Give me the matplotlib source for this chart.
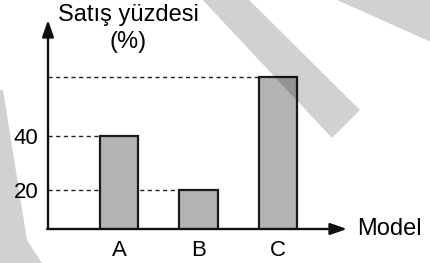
import matplotlib.pyplot as plt
from matplotlib.patches import Polygon

plt.rcParams['font.family'] = ['Liberation Sans', 'DejaVu Sans']

models = ['A', 'B', 'C']
shares = [40, 20, 62]
tick_vals = [20, 40]

W, H = 431, 263
fig = plt.figure(figsize=(W / 100, H / 100), dpi=100)

# axes box in pixels: y-axis at x=48, baseline at y=229, arrows end at 347 / 20
left, right, base, top = 48, 347, 229, 20
ax = fig.add_axes([left / W, (H - base) / H, (right - left) / W, (base - top) / H])
ax.set_xlim(-0.893, 2.868)
ax.set_ylim(5.56, 82.96)
for s in ax.spines.values():
    s.set_visible(False)
ax.patch.set_alpha(0)

bw = 0.48
ax.bar(range(len(models)), shares, width=bw, color='#b3b3b3', edgecolor='#1a1a1a',
       linewidth=1.6, zorder=3)

# dashed guide lines from the y-axis to the bars
dash = dict(colors='#222222', linestyles=(0, (3, 2.5)), linewidth=1.0, zorder=2)
ax.hlines(shares[0], -0.893, 0 - bw / 2, **dash)
ax.hlines(shares[1], -0.893, 1 - bw / 2, **dash)
ax.hlines(shares[2], -0.893, 2 - bw / 2, **dash)

ax.set_xticks(range(len(models)), models)
ax.set_yticks(tick_vals, [str(v) for v in tick_vals])
ax.tick_params(axis='x', length=0, pad=8, labelsize=16)
ax.tick_params(axis='y', length=0, pad=7, labelsize=16)

arrow = dict(arrowstyle='-|>,head_length=1.0,head_width=0.35', color='#111111',
             lw=1.7, mutation_scale=10, shrinkA=0, shrinkB=0)
ax.annotate('', xy=(0, 1), xytext=(0, 0), xycoords='axes fraction', arrowprops=arrow,
            annotation_clip=False)
ax.annotate('', xy=(1, 0), xytext=(-0.003, 0), xycoords='axes fraction', arrowprops=arrow,
            annotation_clip=False)

fig.text(128 / W, 1 - 15 / H, 'Satış yüzdesi', ha='center', va='center', fontsize=17)
fig.text(128 / W, 1 - 42 / H, '(%)', ha='center', va='center', fontsize=17)
fig.text(357 / W, 1 - 229 / H, 'Model', ha='left', va='center', fontsize=17)

# light watermark bands
bands = [
    [(198, -5), (244, -5), (360, 110), (332, 138)],
    [(337, 0), (431, 0), (431, 42)],
    [(0, 90), (3, 90), (27, 240), (42, 263), (0, 263)],
]
for pts in bands:
    fig.patches.append(Polygon([(x / W, 1 - y / H) for x, y in pts], closed=True,
                               transform=fig.transFigure, facecolor='black',
                               alpha=0.18, edgecolor='none', zorder=5))

fig.savefig('out.png', dpi=100)
